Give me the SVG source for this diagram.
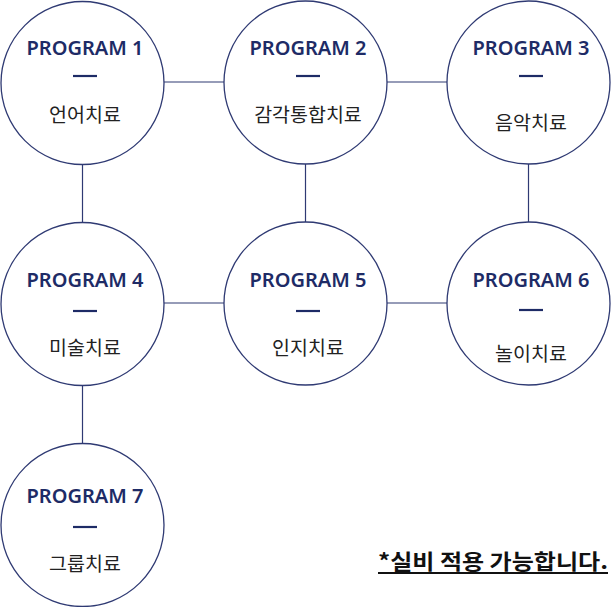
<svg xmlns="http://www.w3.org/2000/svg" width="611" height="607" viewBox="0 0 611 607">
<style>
.c{fill:#fff;stroke:#2f3a73;stroke-width:1.3}
.ln{stroke:#2f3a73;stroke-width:1.2;fill:none}
.p{font-family:"Noto Sans","Liberation Sans",sans-serif;font-weight:600;font-size:20px;fill:#1e2b66;text-anchor:middle}
.d{stroke:#1e2b66;stroke-width:2.2}
.k{font-family:"Noto Sans CJK KR","Noto Sans",sans-serif;font-size:19.5px;fill:#222;text-anchor:middle}
.n{font-family:"Noto Sans CJK KR","Noto Sans",sans-serif;font-size:21px;font-weight:700;fill:#111}
</style>
<g id="connectors" class="ln">
<line x1="164" y1="82" x2="224" y2="82"/>
<line x1="386" y1="82" x2="447" y2="82"/>
<line x1="82.5" y1="164" x2="82.5" y2="223"/>
<line x1="305.5" y1="164" x2="305.5" y2="222"/>
<line x1="528.5" y1="163" x2="528.5" y2="222"/>
<line x1="163" y1="303" x2="224" y2="303"/>
<line x1="386" y1="303" x2="447" y2="303"/>
<line x1="82.5" y1="385" x2="82.5" y2="444"/>
</g>
<g id="node1"><circle class="c" cx="82.5" cy="83" r="81.5"/><text class="p" x="85" y="55">PROGRAM 1</text><line class="d" x1="73" y1="76" x2="97" y2="76"/><text class="k" x="85" y="122">언어치료</text></g>
<g id="node2"><circle class="c" cx="305.5" cy="82.5" r="81.5"/><text class="p" x="308" y="55">PROGRAM 2</text><line class="d" x1="296" y1="76" x2="320" y2="76"/><text class="k" x="308" y="122">감각통합치료</text></g>
<g id="node3"><circle class="c" cx="528.5" cy="82.5" r="81.5"/><text class="p" x="531" y="55">PROGRAM 3</text><line class="d" x1="519" y1="76" x2="543" y2="76"/><text class="k" x="531" y="130">음악치료</text></g>
<g id="node4"><circle class="c" cx="82.5" cy="304" r="81.5"/><text class="p" x="85" y="287">PROGRAM 4</text><line class="d" x1="73" y1="311" x2="97" y2="311"/><text class="k" x="85" y="355">미술치료</text></g>
<g id="node5"><circle class="c" cx="305.5" cy="303.5" r="81.5"/><text class="p" x="308" y="287">PROGRAM 5</text><line class="d" x1="296" y1="311" x2="320" y2="311"/><text class="k" x="308" y="355">인지치료</text></g>
<g id="node6"><circle class="c" cx="528.5" cy="303.5" r="81.5"/><text class="p" x="531" y="287">PROGRAM 6</text><line class="d" x1="519" y1="310" x2="543" y2="310"/><text class="k" x="531" y="361">놀이치료</text></g>
<g id="node7"><circle class="c" cx="82.5" cy="525" r="81.5"/><text class="p" x="85" y="503">PROGRAM 7</text><line class="d" x1="73" y1="527" x2="97" y2="527"/><text class="k" x="85" y="571">그룹치료</text></g>
<g id="note"><text class="n" x="378" y="569" textLength="230" lengthAdjust="spacingAndGlyphs">*실비 적용 가능합니다.</text><line x1="378" y1="573" x2="608" y2="573" stroke="#111" stroke-width="2"/></g>
</svg>
